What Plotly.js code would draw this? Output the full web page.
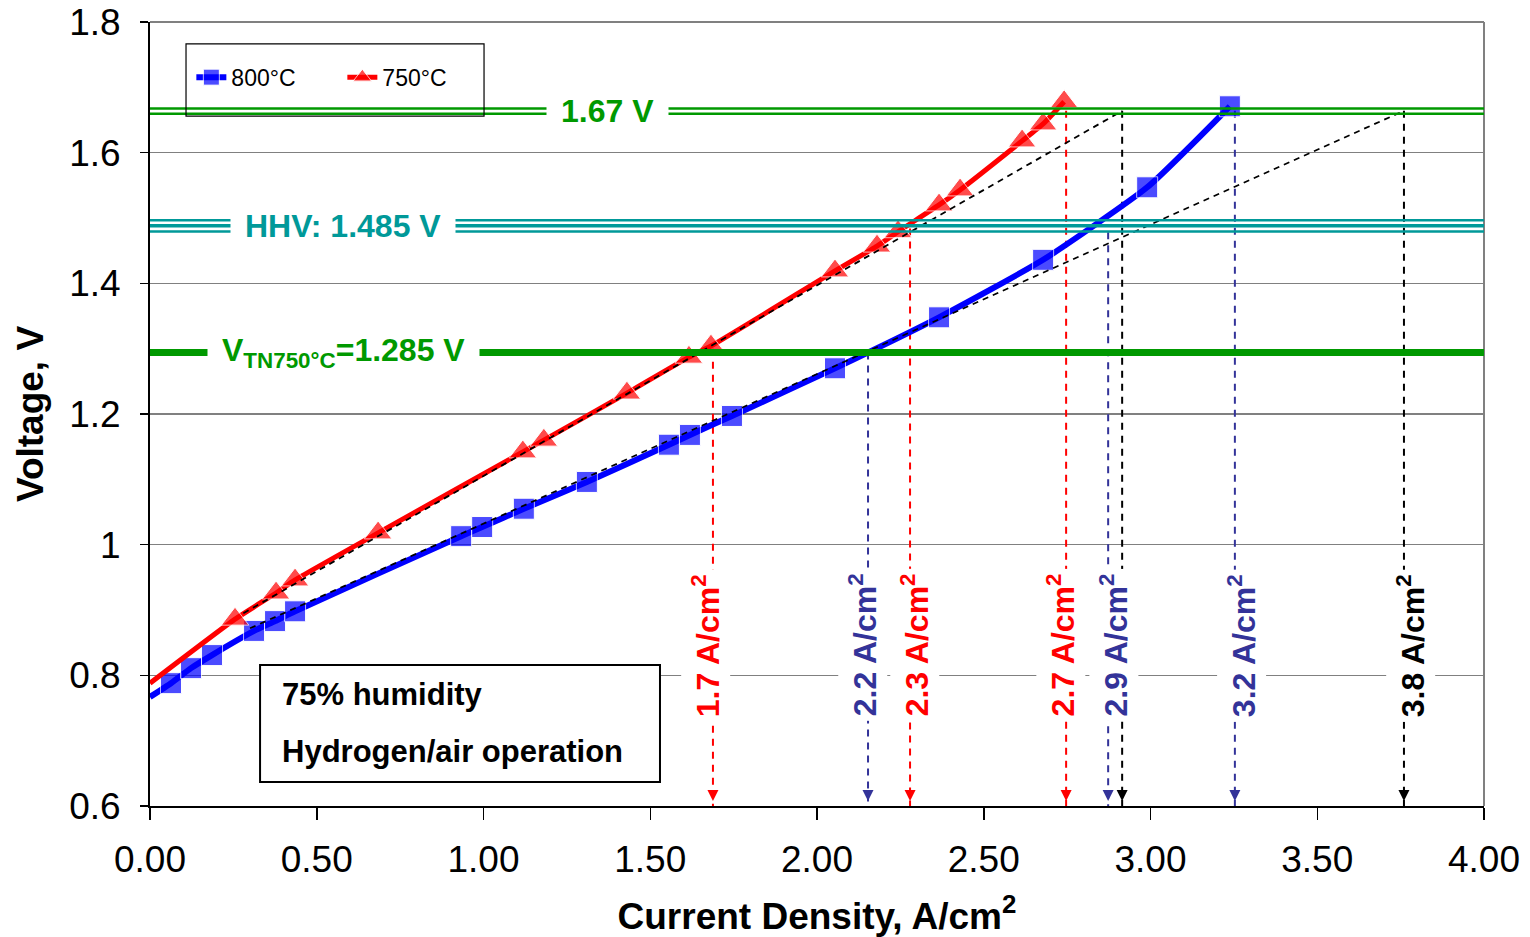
<!DOCTYPE html>
<html>
<head>
<meta charset="utf-8">
<script src="https://cdn.plot.ly/plotly-3.0.1.min.js"></script>
<style>html,body{margin:0;padding:0;background:#fff;}#chart{width:1530px;height:937px;}</style>
</head>
<body>
<div id="chart"></div>
<script>
// ---------- DATA ----------
const current800 = [0, 0.063, 0.123, 0.186, 0.312, 0.375, 0.435, 0.933, 0.996, 1.121, 1.310, 1.556, 1.619, 1.745, 2.054, 2.366, 2.678, 2.990, 3.238];
const voltage800 = [0.767, 0.788, 0.811, 0.831, 0.868, 0.883, 0.898, 1.013, 1.027, 1.055, 1.096, 1.153, 1.168, 1.197, 1.270, 1.348, 1.436, 1.547, 1.671];

const current750 = [0, 0.255, 0.378, 0.435, 0.684, 1.118, 1.181, 1.430, 1.616, 1.682, 2.054, 2.180, 2.243, 2.366, 2.429, 2.615, 2.678, 2.741];
const voltage750 = [0.788, 0.886, 0.926, 0.946, 1.018, 1.142, 1.160, 1.232, 1.287, 1.304, 1.419, 1.457, 1.479, 1.520, 1.543, 1.618, 1.644, 1.678];

// linear-fit extension lines (end points)
const fit750X = [0.28, 2.915];
const fit750Y = [0.895, 1.664];
const fit800X = [0.30, 3.760];
const fit800Y = [0.872, 1.664];

// reference voltage levels
const levelLabels = ['V<sub>TN750°C</sub>=1.285 V', 'HHV: 1.485 V', '1.67 V'];
const levelVolts = [1.294, 1.488, 1.6635];
const levelLabelX = [0.58, 0.58, 1.373];

// vertical drop lines to the current axis
const dropCurrent = [1.688, 2.153, 2.279, 2.747, 2.873, 2.915, 3.253, 3.760];
const dropTop     = [1.300, 1.294, 1.484, 1.664, 1.478, 1.664, 1.664, 1.664];
const dropSeries  = ['750', '800', '750', '750', '800', 'fit', '800', 'fit'];
const dropLabel   = ['1.7', '2.2', '2.3', '2.7', '2.9', '', '3.2', '3.8'];

const xTickLabelsFormat = '.2f';

// ---------- STYLE ----------
const FONT = 'Liberation Sans, Arial, Helvetica, sans-serif';
const colors = {'800': '#0000FF', '750': '#FF0000', 'fit': '#000000'};
const dropColors = {'800': '#333399', '750': '#FF0000', 'fit': '#000000'};
const labelShift = [-7, -5, 5, -5, 6, 0, 7, 7];
const GREEN = '#009900', TEAL = '#009999';

const traces = [];

// drop lines
dropCurrent.forEach((x, i) => {
  traces.push({
    x: [x, x], y: [dropTop[i], 0.6], mode: 'lines', showlegend: false, hoverinfo: 'skip',
    line: {color: dropColors[dropSeries[i]], width: 2, dash: '7px,6px'}
  });
});

// curves
traces.push({
  x: current800, y: voltage800, name: '800°C', mode: 'lines+markers',
  line: {color: colors['800'], width: 6, shape: 'spline', smoothing: 0.5},
  marker: {symbol: 'square', color: colors['800'], size: current800.map((v, i) => i === 0 ? 0 : 21)},
  cliponaxis: false
});
traces.push({
  x: current750, y: voltage750, name: '750°C', mode: 'lines+markers',
  line: {color: colors['750'], width: 5, shape: 'spline', smoothing: 0.5},
  marker: {symbol: 'triangle-up', color: colors['750'], size: current750.map((v, i) => i === 0 ? 0 : 24)},
  cliponaxis: false
});

// fit lines
[[fit750X, fit750Y], [fit800X, fit800Y]].forEach(([fx, fy]) => {
  traces.push({
    x: fx, y: fy, mode: 'lines', showlegend: false, hoverinfo: 'skip',
    line: {color: '#000000', width: 1.8, dash: '6px,5px'}
  });
});

// ---------- SHAPES ----------
const shapes = [];
function hline(level, offsetPx, color, width) {
  shapes.push({type: 'line', xref: 'x', x0: 0, x1: 4.015, yref: 'y', ysizemode: 'pixel',
    yanchor: level, y0: offsetPx, y1: offsetPx, layer: 'above', line: {color: color, width: width}});
}
// VTN thick line
hline(levelVolts[0], 0, GREEN, 7);
// HHV triple line
hline(levelVolts[1], 5.7, TEAL, 2.5);
hline(levelVolts[1], 0, TEAL, 3.5);
hline(levelVolts[1], -5.7, TEAL, 2.5);
// 1.67 V double line
hline(levelVolts[2], 2.6, GREEN, 2.5);
hline(levelVolts[2], -2.6, GREEN, 2.5);

// plot border (top/right)
shapes.push({type: 'line', xref: 'paper', x0: 0, x1: 1, yref: 'paper', y0: 1, y1: 1, layer: 'below', line: {color: '#808080', width: 2}});
shapes.push({type: 'line', xref: 'paper', x0: 1, x1: 1, yref: 'paper', y0: 0, y1: 1, layer: 'below', line: {color: '#808080', width: 2}});

// legend box
shapes.push({type: 'rect', xref: 'paper', yref: 'paper', x0: 0.027, x1: 0.2504, y0: 0.880, y1: 0.972,
  layer: 'above', line: {color: '#000000', width: 1.2}, fillcolor: 'rgba(0,0,0,0)'});
// note box
shapes.push({type: 'rect', xref: 'paper', yref: 'paper', x0: 0.0825, x1: 0.3823, y0: 0.0306, y1: 0.1798,
  layer: 'above', line: {color: '#000000', width: 2}, fillcolor: '#FFFFFF'});

// ---------- ANNOTATIONS ----------
const annotations = [];
const levelColors = [GREEN, TEAL, GREEN];
levelLabels.forEach((t, i) => {
  annotations.push({x: levelLabelX[i], y: levelVolts[i], xref: 'x', yref: 'y', text: t, showarrow: false,
    bgcolor: '#FFFFFF', borderpad: 14, font: {family: FONT, size: 32, color: levelColors[i], weight: 'bold'}});
});
dropCurrent.forEach((x, i) => {
  const col = dropColors[dropSeries[i]];
  annotations.push({x: x, y: 0.6, xref: 'x', yref: 'y', text: '', showarrow: true, ax: 0, ay: -16,
    arrowhead: 2, arrowsize: 1.1, arrowwidth: 2, arrowcolor: col, standoff: 5});
  if (dropLabel[i]) {
    annotations.push({x: x, y: 0.846, xref: 'x', yref: 'y', xshift: labelShift[i],
      text: dropLabel[i] + ' A/cm<sup>2</sup>', textangle: -90, showarrow: false,
      bgcolor: '#FFFFFF', borderpad: 4,
      font: {family: FONT, size: 32, color: col, weight: 'bold'}});
  }
});
annotations.push({xref: 'paper', yref: 'paper', x: 0.0975, y: 0.1416, xanchor: 'left', yanchor: 'middle',
  text: '75% humidity', showarrow: false, font: {family: FONT, size: 31, color: '#000', weight: 'bold'}});
annotations.push({xref: 'paper', yref: 'paper', x: 0.0975, y: 0.0689, xanchor: 'left', yanchor: 'middle',
  text: 'Hydrogen/air operation', showarrow: false, font: {family: FONT, size: 31, color: '#000', weight: 'bold'}});

const layout = {
  width: 1530, height: 937,
  margin: {l: 150, r: 46, t: 22, b: 131},
  paper_bgcolor: '#FFFFFF', plot_bgcolor: '#FFFFFF',
  font: {family: FONT, color: '#000000'},
  showlegend: true,
  legend: {orientation: 'h', x: 0.031, y: 0.957, xanchor: 'left', yanchor: 'top',
    bgcolor: 'rgba(0,0,0,0)', borderwidth: 0, font: {family: FONT, size: 23, color: '#000'},
    itemwidth: 30, traceorder: 'normal', entrywidth: 106, entrywidthmode: 'pixels'},
  xaxis: {
    range: [0, 4], tick0: 0, dtick: 0.5, tickformat: xTickLabelsFormat,
    showgrid: false, zeroline: false, showline: true, linecolor: '#000000', linewidth: 2,
    ticks: 'outside', ticklen: 12, tickwidth: 1.5, tickcolor: '#000000',
    tickfont: {family: FONT, size: 37, color: '#000'}, ticklabelstandoff: 8,
    title: {text: 'Current Density, A/cm<sup>2</sup>', font: {family: FONT, size: 37, color: '#000', weight: 'bold'}, standoff: 24},
    fixedrange: true
  },
  yaxis: {
    range: [0.6, 1.8], tick0: 0.6, dtick: 0.2,
    showgrid: true, gridcolor: '#808080', gridwidth: 1.5, zeroline: false,
    showline: true, linecolor: '#000000', linewidth: 2,
    ticks: 'outside', ticklen: 8, tickwidth: 1.5, tickcolor: '#000000',
    tickfont: {family: FONT, size: 37, color: '#000'}, ticklabelstandoff: 12,
    title: {text: 'Voltage, V', font: {family: FONT, size: 37, color: '#000', weight: 'bold'}, standoff: 14},
    fixedrange: true
  },
  shapes: shapes,
  annotations: annotations
};

Plotly.newPlot('chart', traces, layout, {displayModeBar: false, staticPlot: true});
</script>
</body>
</html>
